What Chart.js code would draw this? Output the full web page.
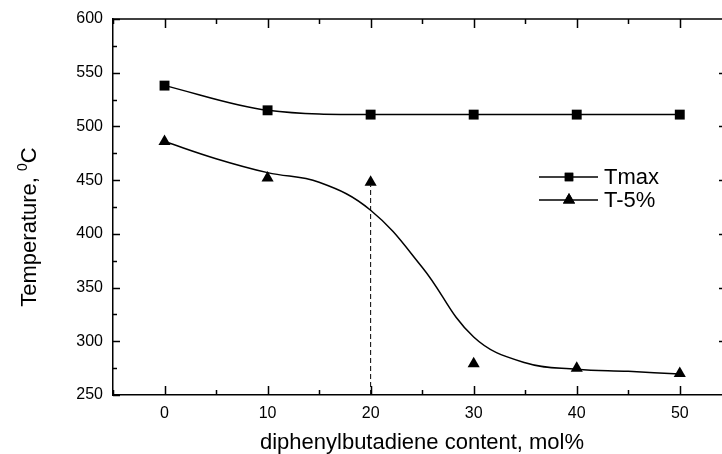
<!DOCTYPE html>
<html>
<head>
<meta charset="utf-8">
<script src="https://cdn.jsdelivr.net/npm/chart.js@4.4.1/dist/chart.umd.min.js"></script>
<style>
  body { margin: 0; background: #fff; }
  #wrap { width: 722px; height: 454px; }
</style>
</head>
<body>
<div id="wrap"><canvas id="chart" width="722" height="454"></canvas></div>
<script>
// composition values
const xValues = [0, 10, 20, 30, 40, 50];
const tmaxValues = [538, 515, 511, 511, 511, 511];
const t5Values = [486, 452, 448, 279, 275, 270];

// fitted curve for T-5%
const t5FitX = [0, 5, 10, 15, 20, 25, 30, 35, 40, 45, 50];
const t5FitY = [486, 470, 457, 448, 422, 369, 304, 280, 274, 272, 269.5];

// dashed marker at 20 mol%
const dashX = [20, 20];
const dashY = [250, 445];

const xTicks = [0, 10, 20, 30, 40, 50];
const yTicks = [250, 300, 350, 400, 450, 500, 550, 600];

const labelFont = '"Liberation Sans", Arial, sans-serif';

function pts(xs, ys) {
    return xs.map((x, i) => ({ x: x, y: ys[i] }));
}

// ticks pointing inward, top border, legend, axis titles
const framePlugin = {
    id: 'frame',
    afterDraw(chart) {
        const ctx = chart.ctx;
        const a = chart.chartArea;
        const xs = chart.scales.x;
        const ys = chart.scales.y;
        ctx.save();
        ctx.strokeStyle = '#000';
        ctx.lineWidth = 1.5;

        // top border
        ctx.beginPath();
        ctx.moveTo(a.left, a.top);
        ctx.lineTo(722, a.top);
        ctx.stroke();

        // x ticks (bottom + top)
        for (let v = -5; v <= 54; v += 5) {
            const px = Math.round(xs.getPixelForValue(v)) + 0.5;
            const len = v % 10 === 0 ? 9 : 5;
            ctx.beginPath();
            ctx.moveTo(px, a.bottom);
            ctx.lineTo(px, a.bottom - len);
            ctx.moveTo(px, a.top);
            ctx.lineTo(px, a.top + len);
            ctx.stroke();
        }
        // y ticks (left + right)
        for (let v = 250; v <= 600; v += 25) {
            const py = Math.round(ys.getPixelForValue(v)) + 0.5;
            const len = v % 50 === 0 ? 7 : 4;
            ctx.beginPath();
            ctx.moveTo(a.left, py);
            ctx.lineTo(a.left + len, py);
            if (v % 50 === 0 && v > 250 && v < 600) {
                ctx.moveTo(722, py);
                ctx.lineTo(719, py);
            }
            ctx.stroke();
        }

        // legend
        const items = [
            { label: 'Tmax', style: 'rect', r: 6, y: 177 },
            { label: 'T-5%', style: 'triangle', r: 7, y: 200 }
        ];
        ctx.font = '22px ' + labelFont;
        ctx.textBaseline = 'middle';
        ctx.textAlign = 'left';
        ctx.fillStyle = '#000';
        items.forEach(it => {
            ctx.lineWidth = 1.5;
            ctx.beginPath();
            ctx.moveTo(539, it.y);
            ctx.lineTo(598, it.y);
            ctx.stroke();
            Chart.helpers.drawPoint(ctx, { pointStyle: it.style, radius: it.r, borderWidth: 0 }, 569, it.y);
            ctx.fill();
            ctx.fillText(it.label, 604, it.y + 1);
        });

        // x title
        ctx.textAlign = 'center';
        ctx.textBaseline = 'alphabetic';
        ctx.fillText('diphenylbutadiene content, mol%', 422, 449);

        // y title with superscript 0
        ctx.translate(36, 227);
        ctx.rotate(-Math.PI / 2);
        const main = 'Temperature, ';
        const big = '22px ' + labelFont;
        const small = '14px ' + labelFont;
        ctx.font = big;
        const w1 = ctx.measureText(main).width;
        const w3 = ctx.measureText('C').width;
        ctx.font = small;
        const w2 = ctx.measureText('0').width;
        const total = w1 + w2 + w3;
        let x0 = -total / 2;
        ctx.textAlign = 'left';
        ctx.font = big;
        ctx.fillText(main, x0, 0);
        ctx.font = small;
        ctx.fillText('0', x0 + w1, -9);
        ctx.font = big;
        ctx.fillText('C', x0 + w1 + w2, 0);
        ctx.restore();
    }
};

new Chart(document.getElementById('chart'), {
    type: 'line',
    data: {
        datasets: [{
            label: 'Tmax',
            data: pts(xValues, tmaxValues),
            borderColor: '#000',
            backgroundColor: '#000',
            borderWidth: 1.5,
            pointStyle: 'rect',
            pointRadius: 7,
            pointBorderWidth: 0,
            cubicInterpolationMode: 'monotone'
        }, {
            label: 'T-5%',
            data: pts(xValues, t5Values),
            borderColor: '#000',
            backgroundColor: '#000',
            showLine: false,
            pointStyle: 'triangle',
            pointRadius: 7,
            pointBorderWidth: 0
        }, {
            label: 'T-5% fit',
            data: pts(t5FitX, t5FitY),
            borderColor: '#000',
            borderWidth: 1.5,
            pointRadius: 0,
            tension: 0.4
        }, {
            label: 'marker',
            data: pts(dashX, dashY),
            borderColor: '#000',
            borderWidth: 1,
            borderDash: [5, 3],
            pointRadius: 0
        }]
    },
    options: {
        responsive: false,
        animation: false,
        events: [],
        layout: { autoPadding: false, padding: { top: 19, right: 1, left: 0, bottom: 0 } },
        plugins: {
            legend: { display: false },
            tooltip: { enabled: false }
        },
        scales: {
            x: {
                type: 'linear',
                min: -5,
                max: 54,
                afterBuildTicks: s => { s.ticks = xTicks.map(v => ({ value: v })); },
                afterFit: s => { s.height = 59; s.paddingLeft = 0; s.paddingRight = 0; },
                grid: { display: false, drawTicks: false },
                border: { display: true, color: '#000', width: 1.5 },
                ticks: { color: '#000', padding: 9, maxRotation: 0, font: { family: labelFont, size: 16 } }
            },
            y: {
                min: 250,
                max: 600,
                afterBuildTicks: s => { s.ticks = yTicks.map(v => ({ value: v })); },
                afterFit: s => { s.width = 113; s.paddingTop = 0; s.paddingBottom = 0; },
                grid: { display: false, drawTicks: false },
                border: { display: true, color: '#000', width: 1.5 },
                ticks: { color: '#000', padding: 10, font: { family: labelFont, size: 16 } }
            }
        }
    },
    plugins: [framePlugin]
});
</script>
</body>
</html>
